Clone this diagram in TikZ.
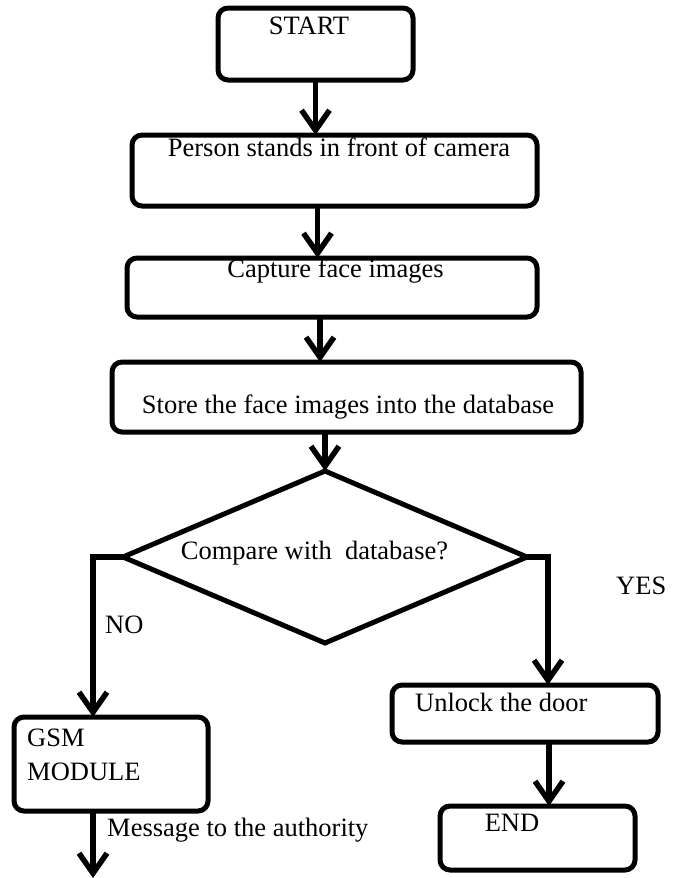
\documentclass[tikz,border=0pt]{standalone}
\usepackage{fontspec}
\setmainfont{Liberation Serif}
\usetikzlibrary{arrows.meta, shapes.geometric, positioning, calc}

\begin{document}
\begin{tikzpicture}[
    % 1. styles
    x=1pt, y=-1pt,
    >={Straight Barb[length=20pt,width=28pt]},
    box/.style={draw, rectangle, rounded corners=10pt, line width=5pt, outer sep=0pt, inner sep=0pt},
    decision/.style={draw, diamond, line width=5pt, outer sep=0pt, inner sep=0pt, minimum width=404pt, minimum height=172pt},
    txt/.style={font=\fontsize{26.5}{34}\selectfont, inner sep=0pt, anchor=base},
    flow/.style={->, line width=5.5pt}
]
    \useasboundingbox (0,0) rectangle (678,878);

    % =================================================================
    % I. main chain
    % =================================================================
    \node[box, minimum width=195pt, minimum height=72pt] (start) at (315.5,44) {};
    \node[box, minimum width=405pt, minimum height=71pt] (person) [below=55pt of start, xshift=19pt] {};
    \node[box, minimum width=410pt, minimum height=59pt] (capture) [below=52pt of person, xshift=-2.5pt] {};
    \node[box, minimum width=469pt, minimum height=70pt] (store) [below=45pt of capture, xshift=14.5pt] {};
    \node[decision] (cmp) [below=39pt of store, xshift=-21.5pt] {};

    % =================================================================
    % II. branches
    % =================================================================
    \node[box, minimum width=194pt, minimum height=94pt] (gsm) at (111,764) {};
    \node[box, minimum width=266pt, minimum height=57pt] (unlock) at (525,713.5) {};
    \node[box, minimum width=195pt, minimum height=64pt] (done) at (537.5,838) {};
    \coordinate (sms) at (93,878);

    % texts
    \node[txt] (startT) at (309,34) {START};
    \node[txt] (personT) at (339,156) {Person stands in front of camera};
    \node[txt] (captureT) at (335.5,277) {Capture face images};
    \node[txt] (storeT) at (348,413) {Store the face images into the database};
    \node[txt] (cmpT) at (314.5,559) {Compare with\ \ database?};
    \node[txt, anchor=base west] (noT) at (105,633) {NO};
    \node[txt, anchor=base west] (yesT) at (616,594) {YES};
    \node[txt, anchor=north west, align=left] (gsmT) at (27,729) {GSM\\MODULE};
    \node[txt, anchor=base west] (unlockT) at (415,711) {Unlock the door};
    \node[txt] (endT) at (512,831) {END};
    \node[txt, anchor=base west] (msgT) at (107,836) {Message to the authority};

    % =================================================================
    % III. flow lines
    % =================================================================
    \draw[flow] (start.south) -- (start.south |- person.north);
    \draw[flow] ([xshift=-17pt]person.south) -- ([xshift=-17pt]person.south |- capture.north);
    \draw[flow] ([xshift=-12pt]capture.south) -- ([xshift=-12pt]capture.south |- store.north);
    \draw[flow] (store.south -| cmp.north) -- (cmp.north);
    \draw[flow] (cmp.west) -| ([xshift=-18pt]gsm.north);
    \draw[flow] (cmp.east) -| ([xshift=23pt]unlock.north);
    \draw[flow] ([xshift=24pt]unlock.south) -- ([xshift=11.5pt]done.north);
    \draw[flow] ([xshift=-18pt]gsm.south) -- (sms);

\end{tikzpicture}
\end{document}
